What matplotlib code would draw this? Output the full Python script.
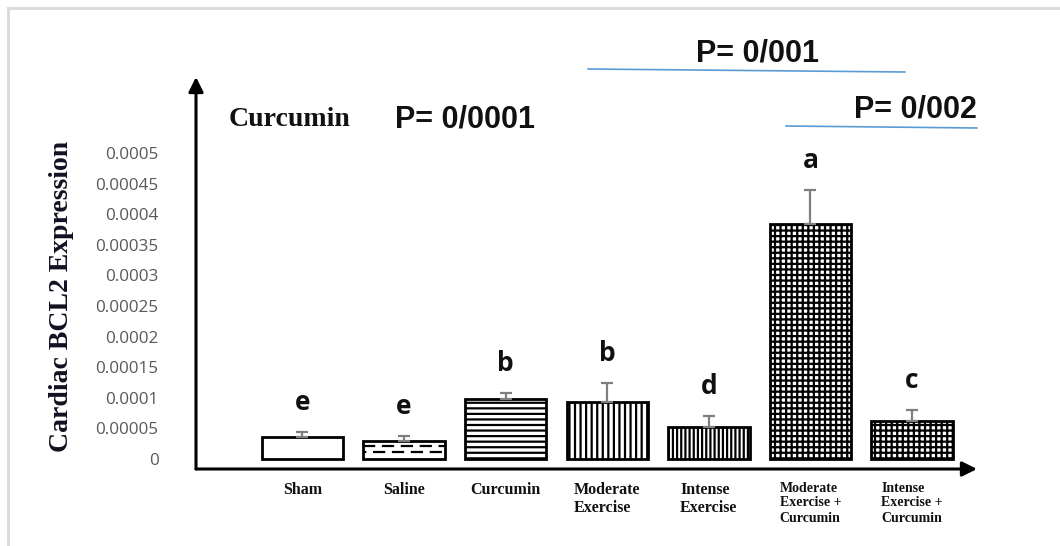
import matplotlib
matplotlib.use('Agg')
import matplotlib.pyplot as plt
from matplotlib.lines import Line2D

# data
groups = ['Sham', 'Saline', 'Curcumin', 'Moderate\nExercise', 'Intense\nExercise',
          'Moderate\nExercise +\nCurcumin', 'Intense\nExercise +\nCurcumin']
means = [0.000036, 0.000029, 0.000098, 0.000093, 0.000052, 0.000384, 0.000062]
errors = [0.000008, 0.000009, 0.000010, 0.000031, 0.000018, 0.000056, 0.000018]
letters = ['e', 'e', 'b', 'b', 'd', 'a', 'c']
hatches = ['', '', '---', '|||', '||||', '+++', '+++']
yticks = [0, 0.00005, 0.0001, 0.00015, 0.0002, 0.00025, 0.0003, 0.00035, 0.0004, 0.00045, 0.0005]
ytick_labels = ['0', '0.00005', '0.0001', '0.00015', '0.0002', '0.00025', '0.0003',
                '0.00035', '0.0004', '0.00045', '0.0005']

W, H = 1060, 546
plt.rcParams['hatch.linewidth'] = 1.6
fig = plt.figure(figsize=(W / 100, H / 100), dpi=100)
ax = fig.add_axes([196 / W, 77 / H, (977 - 196) / W, (469 - 77) / H])

x = list(range(len(groups)))
bars = ax.bar(x, means, width=0.8, color='white', edgecolor='black', linewidth=2, zorder=2)
for b, h in zip(bars, hatches):
    b.set_hatch(h)

# dashed pattern inside the saline bar
sb = bars[1]
for frac, off in [(0.39, 4), (0.72, 0)]:
    yy = sb.get_y() + sb.get_height() * frac
    ln, = ax.plot([sb.get_x(), sb.get_x() + sb.get_width()], [yy, yy], color='black',
                  lw=1.6, linestyle=(off, (5.5, 3)), zorder=3)
    ln.set_clip_path(sb)

ax.errorbar(x, means, yerr=[[0] * len(means), errors], fmt='none', ecolor='#7f7f7f',
            elinewidth=1.6, capsize=4, capthick=1.6, zorder=4)

for xi, m, e, t in zip(x, means, errors, letters):
    ax.annotate(t, (xi, m + e), xytext=(0, 21), textcoords='offset points', ha='center',
                va='center', fontsize=19, fontweight='bold', family='Open Sans', color='#111111')

ax.set_xlim(-1.048, 6.639)
ax.set_ylim(-1.634e-5, 6.242e-4)
ax.set_yticks(yticks)
ax.set_yticklabels(ytick_labels, family='Open Sans', fontsize=12.3, color='#595959')
ax.set_xticks(x)
ax.set_xticklabels(groups, family='Liberation Serif', fontweight='bold', fontsize=11.5,
                   multialignment='left', linespacing=1.25, color='#111111')
for lab in ax.get_xticklabels():
    if lab.get_text().count('\n') == 2:
        lab.set_fontsize(10)
        lab.set_linespacing(1.2)
ax.tick_params(axis='y', length=0, pad=27)
ax.tick_params(axis='x', length=0, pad=9)
for s in ax.spines.values():
    s.set_visible(False)

# axis arrows
ax.annotate('', xy=(1, 0), xytext=(0, 0), xycoords='axes fraction',
            arrowprops=dict(arrowstyle='-|>', color='black', lw=2.2, mutation_scale=22,
                            shrinkA=0, shrinkB=0))
ax.annotate('', xy=(0, 1), xytext=(0, 0), xycoords='axes fraction',
            arrowprops=dict(arrowstyle='-|>', color='black', lw=2.2, mutation_scale=22,
                            shrinkA=0, shrinkB=0))

fig.text(62 / W, 1 - 296 / H, 'Cardiac BCL2 Expression', rotation=90, ha='center', va='center',
         family='Liberation Serif', fontweight='bold', fontsize=20, color='#111122')

# top annotations
fig.text(290 / W, 1 - 119 / H, 'Curcumin', ha='center', va='center', family='Liberation Serif',
         fontweight='bold', fontsize=20, color='#111111')
pfam = ['Liberation Sans Narrow', 'Liberation Sans']
fig.text(465 / W, 1 - 120 / H, 'P= 0/0001', ha='center', va='center', family=pfam,
         fontweight='bold', fontsize=22, color='#111111')
fig.text(758 / W, 1 - 53 / H, 'P= 0/001', ha='center', va='center', family=pfam,
         fontweight='bold', fontsize=22, color='#111111')
fig.text(915 / W, 1 - 110 / H, 'P= 0/002', ha='center', va='center', family=pfam,
         fontweight='bold', fontsize=22, color='#111111')

fig.add_artist(Line2D([588 / W, 905 / W], [1 - 69 / H, 1 - 72 / H], color='#5b9bd5', lw=1.2))
fig.add_artist(Line2D([786 / W, 977 / W], [1 - 126 / H, 1 - 128 / H], color='#5b9bd5', lw=1.2))

# light frame at left and top
fig.add_artist(Line2D([8 / W, 8 / W], [0, 1 - 8 / H], color='#d9d9d9', lw=2))
fig.add_artist(Line2D([8 / W, 1], [1 - 8 / H, 1 - 8 / H], color='#d9d9d9', lw=2))

fig.savefig('out.png', dpi=100)
